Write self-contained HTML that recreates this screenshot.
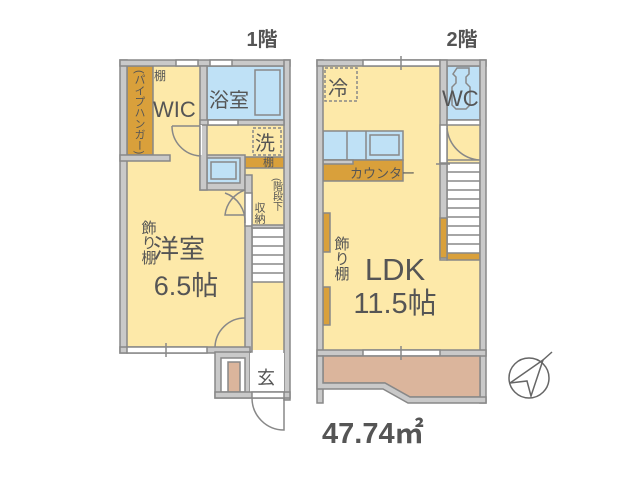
<!DOCTYPE html>
<html><head><meta charset="utf-8"><style>
body{margin:0;background:#fff;width:640px;height:480px;overflow:hidden}
text{font-family:"Liberation Sans","Noto Sans CJK JP",sans-serif;fill:#555}
</style></head><body>
<svg width="640" height="480" viewBox="0 0 640 480">
<g stroke="#888" stroke-width="1.5">
<rect x="127" y="66" width="157" height="284" fill="#fde9a9" stroke="none"/>
<rect x="207" y="66" width="77" height="54" fill="#bfe1f6"/>
<rect x="255" y="70" width="25" height="45" fill="#bfe1f6"/>
<rect x="127" y="66" width="26" height="89" fill="#d9a03b"/>
<rect x="245" y="157" width="39" height="11" fill="#d9a03b"/>
<rect x="200" y="155" width="45" height="35" fill="#c9c9c9"/>
<rect x="207" y="158" width="33" height="25" fill="#bfe1f6"/>
<rect x="211" y="162" width="25" height="17" fill="none"/>
<rect x="253" y="128" width="28" height="27" fill="none" stroke-dasharray="3,2"/>
<rect x="252" y="228" width="32" height="54" fill="#fff"/>
<line x1="252" y1="237" x2="284" y2="237"/><line x1="252" y1="246" x2="284" y2="246"/>
<line x1="252" y1="255" x2="284" y2="255"/><line x1="252" y1="264" x2="284" y2="264"/>
<line x1="252" y1="273" x2="284" y2="273"/>
<rect x="120" y="60" width="7" height="293" fill="#c9c9c9"/>
<rect x="120" y="60" width="170" height="6" fill="#c9c9c9"/>
<rect x="284" y="60" width="6" height="340" fill="#c9c9c9"/>
<rect x="176" y="60" width="22" height="6" fill="#fff"/>
<rect x="210" y="60" width="22" height="6" fill="#fff"/>
<rect x="120" y="155" width="50" height="6" fill="#c9c9c9"/>
<rect x="200" y="66" width="7" height="124" fill="#c9c9c9"/>
<rect x="200" y="120" width="84" height="5" fill="#c9c9c9"/>
<rect x="208" y="120" width="30" height="5" fill="#fff"/>
<rect x="200" y="125" width="2" height="30" fill="#fff" stroke="none"/>
<rect x="245" y="175" width="7" height="177" fill="#c9c9c9"/>
<rect x="245" y="193" width="7" height="33" fill="#fff"/>
<rect x="252" y="225" width="32" height="3" fill="#c9c9c9"/>
<rect x="120" y="347" width="130" height="6" fill="#c9c9c9"/>
<rect x="127" y="347" width="80" height="6" fill="#fff"/>
<rect x="215" y="352" width="35" height="46" fill="#c9c9c9"/>
<rect x="221" y="358" width="24" height="34" fill="#fff"/>
<rect x="228" y="362" width="12" height="30" fill="#dbb59c"/>
<rect x="250" y="353" width="34" height="45" fill="#fff" stroke="none"/>
<rect x="215" y="392" width="75" height="6" fill="#c9c9c9"/>
<rect x="252" y="392" width="32" height="6" fill="#fff"/>
<path d="M172 126 L200 126 L200 156 A30 30 0 0 1 172 126" fill="none"/>
<path d="M245 223 A30 30 0 0 0 225 193" fill="none"/>
<path d="M245 190 A30 30 0 0 0 225 215 L245 215" fill="none"/>
<path d="M245 318 A30 30 0 0 0 215 347" fill="none"/>
<path d="M284 398 L284 430 A32 32 0 0 1 252 398" fill="none"/>
<line x1="166" y1="343" x2="166" y2="357"/>
</g>
<g stroke="#888" stroke-width="1.5">
<rect x="323" y="66" width="157" height="284" fill="#fde9a9" stroke="none"/>
<rect x="447" y="66" width="33" height="54" fill="#bfe1f6"/>
<rect x="323" y="131" width="80" height="29" fill="#bfe1f6"/>
<line x1="347" y1="131" x2="347" y2="160"/><line x1="366" y1="131" x2="366" y2="160"/>
<rect x="370" y="135" width="29" height="20" fill="none"/>
<rect x="323" y="160" width="80" height="21" fill="#d9a03b"/>
<rect x="323" y="160" width="30" height="4" fill="#c9c9c9"/>
<rect x="325" y="68" width="32" height="33" fill="none" stroke-dasharray="3,2"/>
<rect x="323" y="213" width="7" height="39" fill="#d9a03b"/>
<rect x="323" y="287" width="7" height="38" fill="#d9a03b"/>
<rect x="447" y="163" width="33" height="92" fill="#fff"/>
<line x1="447" y1="172" x2="480" y2="172"/><line x1="447" y1="181" x2="480" y2="181"/>
<line x1="447" y1="190" x2="480" y2="190"/><line x1="447" y1="199" x2="480" y2="199"/>
<line x1="447" y1="208" x2="480" y2="208"/><line x1="447" y1="217" x2="480" y2="217"/>
<line x1="447" y1="226" x2="480" y2="226"/><line x1="447" y1="235" x2="480" y2="235"/>
<line x1="447" y1="244" x2="480" y2="244"/>
<rect x="447" y="253" width="33" height="7" fill="#d9a03b"/>
<rect x="317" y="60" width="6" height="343" fill="#c9c9c9"/>
<rect x="317" y="60" width="169" height="6" fill="#c9c9c9"/>
<rect x="480" y="60" width="6" height="343" fill="#c9c9c9"/>
<rect x="363" y="60" width="77" height="6" fill="#fff"/>
<rect x="440" y="60" width="7" height="200" fill="#c9c9c9"/>
<rect x="440" y="125" width="7" height="38" fill="#fff"/>
<rect x="440" y="218" width="7" height="40" fill="#d9a03b"/>
<rect x="447" y="120" width="33" height="5" fill="#fff"/>
<rect x="317" y="350" width="169" height="6" fill="#c9c9c9"/>
<rect x="363" y="350" width="77" height="6" fill="#fff"/>
<path d="M323 356 L480 356 L480 397 L410 397 L385 383 L323 383 Z" fill="#dbb59c"/>
<path d="M317 389 L383 389 L408 403 L486 403 L486 397 L410 397 L385 383 L323 383 L323 356 L317 356 Z" fill="#c9c9c9"/>
<line x1="401" y1="56" x2="401" y2="70"/><line x1="401" y1="346" x2="401" y2="360"/>
<line x1="436" y1="164" x2="450" y2="164"/>
<path d="M447 128 A35 35 0 0 0 480 160 L447 160" fill="none"/>
<path d="M457 68 h12 v6 l-3 3 v6 l4 4 v18 l-4 4 h-10 l-4 -4 v-18 l4 -4 v-6 l-3 -3 z" fill="none"/>
</g>
<text x="262" y="46" font-size="20" font-weight="bold" text-anchor="middle">1階</text>
<text x="462" y="46" font-size="20" font-weight="bold" text-anchor="middle">2階</text>
<g font-size="12">
<text x="154" y="80">棚</text>
<text x="263" y="166" font-size="11">棚</text>
<text x="139" y="70" font-size="11" style="writing-mode:vertical-rl">(パイプハンガー)</text>
<text x="276" y="178" font-size="10" style="writing-mode:vertical-rl">(階段下</text>
<text x="259" y="202" font-size="11" style="writing-mode:vertical-rl">収納</text>
<text x="148" y="220" font-size="15" style="writing-mode:vertical-rl">飾り棚</text>
<text x="341" y="236" font-size="15" style="writing-mode:vertical-rl">飾り棚</text>
</g>
<text x="153" y="117" font-size="22">WIC</text>
<text x="209" y="107" font-size="20">浴室</text>
<text x="255" y="150" font-size="20">洗</text>
<text x="153" y="258" font-size="26">洋室</text>
<text x="186" y="295" font-size="27" text-anchor="middle">6.5帖</text>
<text x="266" y="384" font-size="18" text-anchor="middle">玄</text>
<text x="328" y="95" font-size="20">冷</text>
<text x="442" y="106" font-size="22">WC</text>
<text x="350" y="178" font-size="13">カウンター</text>
<text x="395" y="280" font-size="31" text-anchor="middle">LDK</text>
<text x="395" y="313" font-size="29" text-anchor="middle">11.5帖</text>
<text x="322" y="443" font-size="29" font-weight="bold">47.74㎡</text>
<g stroke="#666" fill="none" stroke-width="1.5">
<circle cx="529" cy="378" r="20"/>
<path d="M543 360 L510 383 L527 381 L531 396 Z"/>
<line x1="543" y1="360" x2="552" y2="352"/>
</g>
</svg>
</body></html>
